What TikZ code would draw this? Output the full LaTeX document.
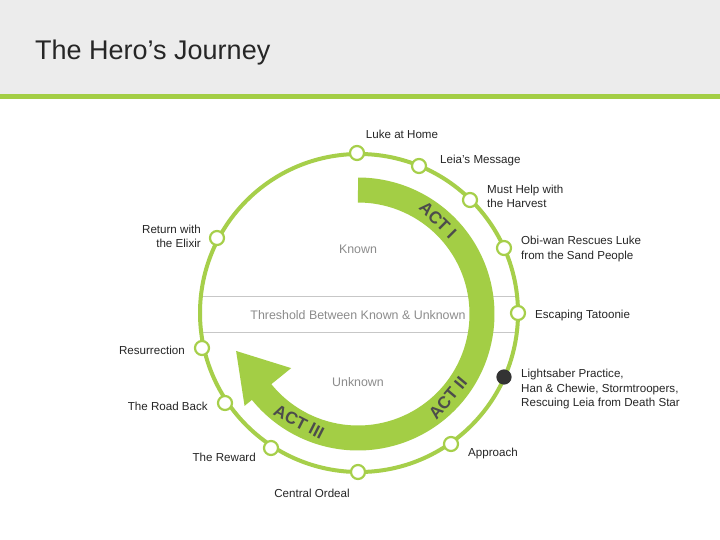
\documentclass[tikz,border=0pt]{standalone}
\usepackage{fontspec}
\setmainfont{Liberation Sans}
\begin{document}
\begin{tikzpicture}[x=1pt,y=-1pt,
  ev/.style={circle,draw=ringg,line width=2.2pt,fill=white,minimum size=14pt,inner sep=0pt},
  lbl/.style={font=\fontsize{11.6}{14.2}\selectfont,text=black!85,inner sep=0pt,align=left},
  act/.style={font=\fontsize{17}{17}\selectfont\bfseries,text=black!70,inner sep=0pt},
  zone/.style={font=\fontsize{12.4}{14}\selectfont,text=black!45,inner sep=0pt}]
\definecolor{ringg}{HTML}{A6CF4A}
\definecolor{arrg}{HTML}{A3CE45}
\definecolor{hdr}{HTML}{ECECEC}
\useasboundingbox (0,0) rectangle (720,540);
\fill[white] (0,0) rectangle (720,540);
\fill[hdr] (0,0) rectangle (720,95);
\fill[arrg] (0,94) rectangle (720,99);
\node[anchor=west,inner sep=0pt,font=\fontsize{27}{31}\selectfont,text=black!85] (title) at (35,53) {The Hero’s Journey};
% threshold band
\draw[black!22,line width=1pt] (202,296) -- (517,296);
\draw[black!22,line width=1pt] (202,332) -- (517,332);
\node[zone] (thr) at (358,315) {Threshold Between Known \& Unknown};
\node[zone] (known) at (358,249) {Known};
\node[zone] (unknown) at (358,382) {Unknown};
% ring
\draw[ringg,line width=4pt] (359,313) circle [radius=159];
% green arrow
\draw[arrg,line width=25pt] plot[domain=270:502,samples=80,smooth] ({358+124*cos(\x)},{314+124*sin(\x)});
\fill[arrg] ({358+86*cos(141)},{314+86*sin(141)}) -- ({358+146*cos(141)},{314+146*sin(141)}) -- ({358+118*cos(141)-48*sin(141)},{314+118*sin(141)+48*cos(141)}) -- cycle;
\node[act,rotate=-45] (a1) at (438,220) {ACT I};
\node[act,rotate=50] (a2) at (448,398) {ACT II};
\node[act,rotate=-27] (a3) at (299,422) {ACT III};
% events
\node[ev] (n1) at (357,153) {};
\node[ev] (n2) at (419,166) {};
\node[ev] (n3) at (470,200) {};
\node[ev] (n4) at (504,248) {};
\node[ev] (n5) at (518,313) {};
\node[ev,fill=black!80,draw=black!80,minimum size=13pt] (n6) at (504,377) {};
\node[ev] (n7) at (451,444) {};
\node[ev] (n8) at (358,472) {};
\node[ev] (n9) at (271,448) {};
\node[ev] (n10) at (225,403) {};
\node[ev] (n11) at (202,348) {};
\node[ev] (n12) at (217,238) {};
% labels
\node[lbl] (l1) at (402,134) {Luke at Home};
\node[lbl,anchor=west] (l2) at (440,161) {Leia’s Message};
\node[lbl,anchor=west] (l3) at (487,196) {Must Help with\\the Harvest};
\node[lbl,anchor=west] (l4) at (521,249) {Obi-wan Rescues Luke\\from the Sand People};
\node[lbl,anchor=west] (l5) at (535,315) {Escaping Tatoonie};
\node[lbl,anchor=west] (l6) at (521,389) {Lightsaber Practice,\\Han \& Chewie, Stormtroopers,\\Rescuing Leia from Death Star};
\node[lbl,anchor=west] (l7) at (468,453) {Approach};
\node[lbl] (l8) at (312,493) {Central Ordeal};
\node[lbl,anchor=east] (l9) at (256,457) {The Reward};
\node[lbl,anchor=east] (l10) at (208,406) {The Road Back};
\node[lbl,anchor=east] (l11) at (185,350) {Resurrection};
\node[lbl,anchor=east,align=right] (l12) at (201,236) {Return with\\the Elixir};
\end{tikzpicture}
\end{document}
